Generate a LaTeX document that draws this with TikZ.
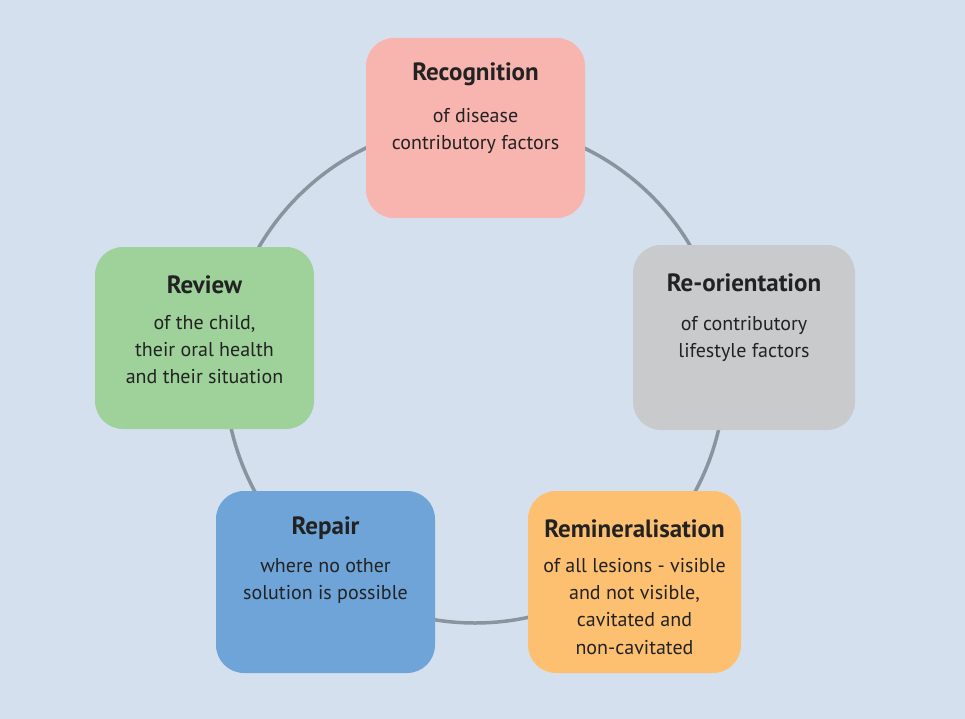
\documentclass[tikz,border=0pt]{standalone}
\usepackage{fontspec}
\setmainfont{PT Sans}
\usetikzlibrary{calc}
\definecolor{bg}{HTML}{D5E0EE}
\definecolor{ring}{HTML}{8A949F}
\definecolor{cpink}{HTML}{F8B4AE}
\definecolor{cgray}{HTML}{C9CACC}
\definecolor{corange}{HTML}{FDC071}
\definecolor{cblue}{HTML}{6FA4D8}
\definecolor{cgreen}{HTML}{9ED29A}
\definecolor{ink}{HTML}{222222}
\begin{document}
\begin{tikzpicture}[x=1pt,y=-1pt,
  card/.style={draw=none,rounded corners=28pt,inner sep=0pt},
  ttl/.style={font=\fontsize{25}{29}\selectfont\bfseries,text=ink,inner sep=0pt,anchor=center},
  bdy/.style={font=\fontsize{20}{27.4}\selectfont,text=ink,inner sep=0pt,anchor=north,align=center}]
\fill[bg] (0,0) rectangle (965,719);
\useasboundingbox (0,0) rectangle (965,719);
\coordinate (c) at (475,373);
\draw[ring,line width=3.5pt] (c) circle[radius=250];
% boxes
\node[card,fill=cpink,minimum width=219pt,minimum height=180pt] (rec) at (475.5,128) {};
\node[card,fill=cgray,minimum width=222pt,minimum height=185pt] (reo) at (744,337.5) {};
\node[card,fill=corange,minimum width=213pt,minimum height=182pt] (rem) at (634.5,582) {};
\node[card,fill=cblue,minimum width=219pt,minimum height=182pt] (rep) at (325.5,582) {};
\node[card,fill=cgreen,minimum width=219pt,minimum height=182pt] (rev) at (204.5,338) {};
% titles
\node[ttl] (recT) at ($(rec.north)+(0,36)$) {Recognition};
\node[ttl] (reoT) at ($(reo.north)+(0,38)$) {Re-orientation};
\node[ttl] (remT) at ($(rem.north)+(0,38)$) {Remineralisation};
\node[ttl] (repT) at ($(rep.north)+(0,37)$) {Repair};
\node[ttl] (revT) at ($(rev.north)+(0,38)$) {Review};
% bodies
\node[bdy] (recB) at ($(rec.north)+(0,70)$) {of disease\\contributory factors};
\node[bdy] (reoB) at ($(reo.north)+(0,71)$) {of contributory\\lifestyle factors};
\node[bdy] (remB) at ($(rem.north)+(0,67)$) {of all lesions - visible\\and not visible,\\cavitated and\\non-cavitated};
\node[bdy] (repB) at ($(rep.north)+(0,67)$) {where no other\\solution is possible};
\node[bdy] (revB) at ($(rev.north)+(0,68)$) {of the child,\\their oral health\\and their situation};
\end{tikzpicture}
\end{document}
